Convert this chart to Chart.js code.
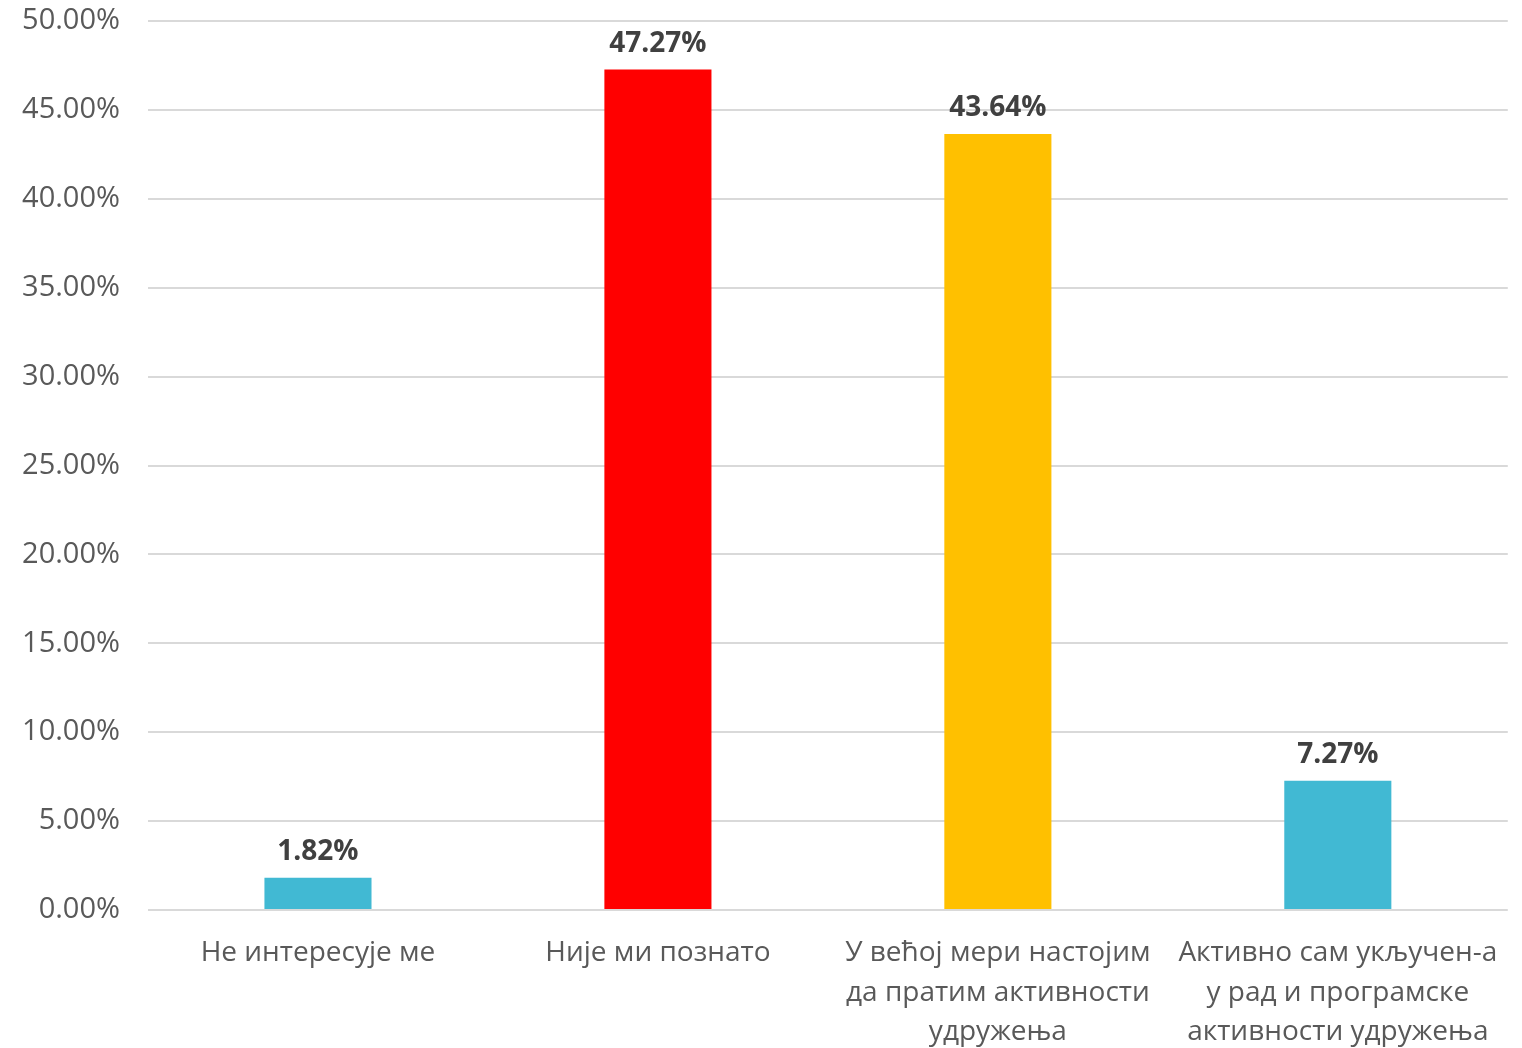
<!DOCTYPE html>
<html lang="sr">
<head>
    <meta charset="UTF-8">
    <title>Chart</title>
    <script src="https://cdn.jsdelivr.net/npm/chart.js"></script>
    <style>
        html, body { margin: 0; padding: 0; background: #fff; }
        #wrap { width: 1522px; height: 1048px; }
    </style>
</head>
<body>
    <div id="wrap"><canvas id="chart"></canvas></div>

    <script>
        const categories = [
            ['Не интересује ме'],
            ['Није ми познато'],
            ['У већој мери настојим', 'да пратим активности', 'удружења'],
            ['Активно сам укључен-а', 'у рад и програмске', 'активности удружења']
        ];
        const values = [1.82, 47.27, 43.64, 7.27];
        const barColors = ['#41B9D3', '#FF0000', '#FFC000', '#41B9D3'];
        const yMax = 50;
        const yStep = 5;

        const fontFamily = '"Open Sans", "Noto Sans", sans-serif';

        // draws value above each bar
        const valueLabels = {
            id: 'valueLabels',
            afterDatasetsDraw(chart) {
                const ctx = chart.ctx;
                const meta = chart.getDatasetMeta(0);
                ctx.save();
                ctx.font = 'bold 28px ' + fontFamily;
                ctx.fillStyle = '#404040';
                ctx.textAlign = 'center';
                ctx.textBaseline = 'bottom';
                meta.data.forEach((bar, i) => {
                    ctx.fillText(values[i].toFixed(2) + '%', bar.x, bar.y - 12);
                });
                ctx.restore();
            }
        };

        new Chart(document.getElementById('chart'), {
            type: 'bar',
            data: {
                labels: categories,
                datasets: [{
                    data: values,
                    backgroundColor: barColors,
                    borderWidth: 0,
                    categoryPercentage: 1,
                    barPercentage: 0.315
                }]
            },
            options: {
                responsive: true,
                maintainAspectRatio: false,
                animation: false,
                layout: { padding: { top: 21, right: 14, left: 0, bottom: 0 } },
                plugins: {
                    legend: { display: false },
                    tooltip: { enabled: false }
                },
                scales: {
                    y: {
                        min: 0,
                        max: yMax,
                        border: { display: false },
                        grid: { color: '#D9D9D9', lineWidth: 2, drawTicks: false },
                        ticks: {
                            stepSize: yStep,
                            padding: 28,
                            color: '#595959',
                            font: { family: fontFamily, size: 29, lineHeight: 1.2 },
                            callback: v => v.toFixed(2) + '%'
                        },
                        afterFit(scale) {
                            scale.width = 148;
                            scale.paddingTop = 0;
                            scale.paddingBottom = 0;
                        }
                    },
                    x: {
                        border: { display: false },
                        grid: { display: false, drawTicks: false },
                        ticks: {
                            padding: 23,
                            color: '#595959',
                            maxRotation: 0,
                            autoSkip: false,
                            font: { family: fontFamily, size: 28, lineHeight: 1.42 }
                        },
                        afterFit(scale) { scale.height = 138; }
                    }
                }
            },
            plugins: [valueLabels]
        });
    </script>
</body>
</html>
